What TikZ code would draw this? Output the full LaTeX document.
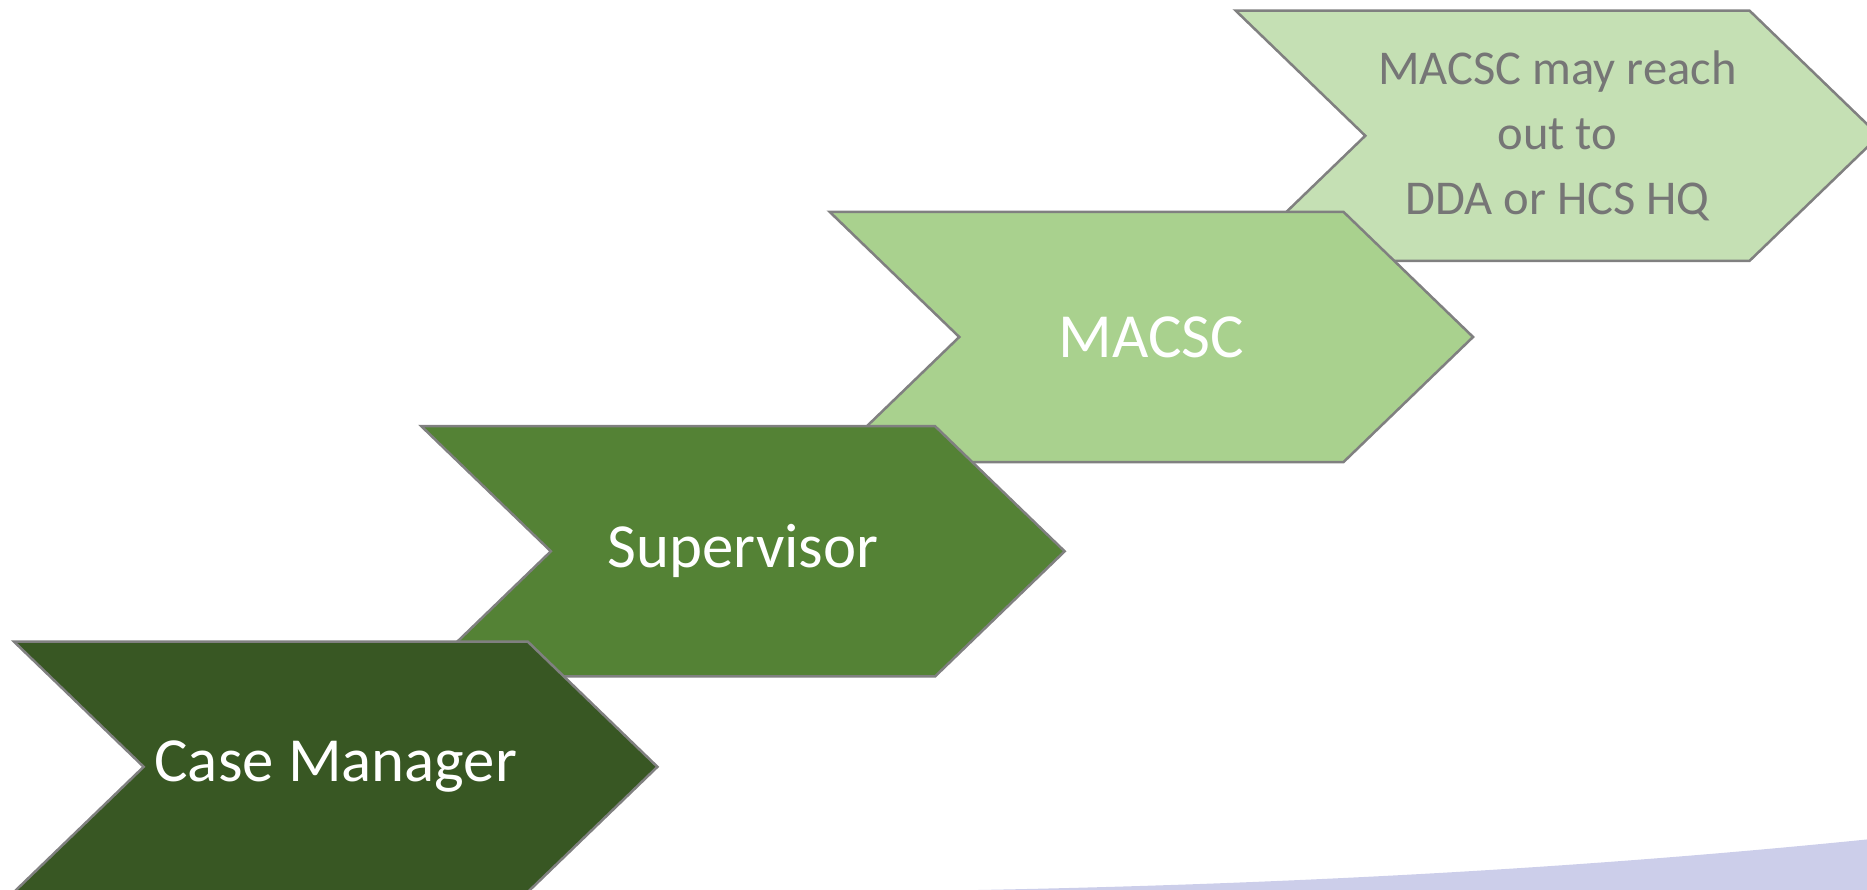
\documentclass[tikz,border=0pt]{standalone}
\usepackage{fontspec}
\setmainfont{Carlito}
\usetikzlibrary{shapes.symbols}
\definecolor{darkgreen}{RGB}{56,87,35}
\definecolor{midgreen}{RGB}{84,130,53}
\definecolor{lightgreen}{RGB}{169,209,142}
\definecolor{palegreen}{RGB}{197,224,180}
\definecolor{edgegray}{RGB}{128,128,128}
\definecolor{textgray}{RGB}{118,118,118}
\definecolor{lavender}{RGB}{204,206,234}
\begin{document}
\begin{tikzpicture}[x=0.01cm,y=-0.01cm,
thin,step node/.style={signal,signal from=west,signal to=east,signal pointer angle=88,
draw=edgegray,line width=.6pt,minimum width=5.4cm,minimum height=2.1cm,inner sep=0pt,
font=\fontsize{15}{18}\selectfont,text=white}]

\useasboundingbox (0,0) rectangle (1568,747);
\clip (0,0) rectangle (1568,747);
\fill[lavender] (790,748) .. controls (1100,743) and (1350,727) .. (1568,705) -- (1568,760) -- (790,760) -- cycle;

\node[step node,fill=palegreen,text=textgray,align=center,font=\fontsize{11.6}{15.6}\selectfont] (reach) at (1308,114) {MACSC may reach\\out to\\DDA or HCS HQ};
\node[step node,fill=lightgreen] (macsc) at (967,283) {MACSC};
\node[step node,fill=midgreen] (super) at (624,463) {Supervisor};
\node[step node,fill=darkgreen] (case) at (282,644) {Case Manager};
\end{tikzpicture}
\end{document}
